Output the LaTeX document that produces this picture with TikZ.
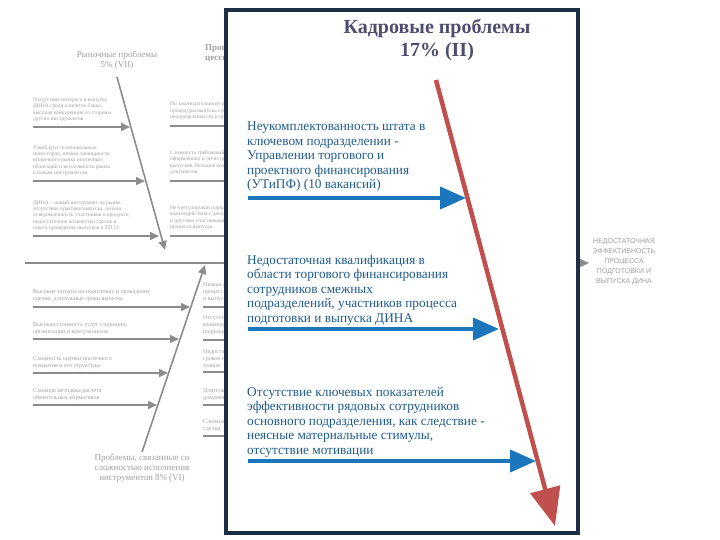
\documentclass[tikz,border=0pt]{standalone}
\usepackage{fontspec}
\setmainfont{Liberation Serif}
\newfontfamily\lsans{Liberation Sans}
\usetikzlibrary{arrows.meta}
\definecolor{navy}{HTML}{1C2F45}
\definecolor{titlec}{HTML}{4E4E70}
\definecolor{bluetext}{HTML}{1F5C8C}
\definecolor{bluearrow}{HTML}{1B76BC}
\definecolor{redarrow}{HTML}{C0504D}
\definecolor{fgray}{HTML}{8C8C8C}
\definecolor{tgray}{HTML}{A0A0A0}
\begin{document}
\begin{tikzpicture}[x=1pt,y=-1pt,
  tinytext/.style={text=tgray, font=\fontsize{5.5}{6.4}\selectfont, align=left, inner sep=0, anchor=south west},
  smalltext/.style={text=tgray, font=\fontsize{6}{7}\selectfont, align=left, inner sep=0, anchor=south west},
  labeltext/.style={text=tgray, font=\fontsize{9}{10}\selectfont, align=center, inner sep=0},
  grayarrow/.style={draw=fgray, line width=1.6pt, -{Triangle[length=9pt,width=8pt]}},
  grayline/.style={draw=fgray, line width=1.6pt},
  mainblock/.style={text=bluetext, font=\fontsize{13.3}{14.5}\selectfont, align=left, inner sep=0, anchor=north west},
  bluearr/.style={draw=bluearrow, line width=4pt, -{Triangle[length=26pt,width=22pt]}},
  redarr/.style={draw=redarrow, line width=4.5pt, -{Triangle[length=38pt,width=30pt]}},
  titletext/.style={text=titlec, font=\fontsize{20}{23}\selectfont\bfseries, align=center, inner sep=0}
]
\useasboundingbox (0,0) rectangle (720,540);
\fill[white] (0,0) rectangle (720,540);

% ---------- background fishbone ----------
\coordinate (g1) at (117,77);
\coordinate (g2) at (165,250);
\coordinate (g3) at (142,452);
\coordinate (g4) at (205,265);
\coordinate (s1) at (25,263);
\coordinate (s2) at (589,263);

\node[labeltext] (lblvii) at (117,60) {Рыночные проблемы\\5\% (VII)};
\node[labeltext, anchor=west, align=left, font=\fontsize{9}{10}\selectfont\bfseries] (lbli) at (205,53) {Процессные проблемы\\цессии и выпуска};
\node[labeltext] (lblvi) at (142,468) {Проблемы, связанные со\\сложностью исполнения\\инструментов 8\% (VI)};
\node[labeltext, font=\lsans\fontsize{7}{10}\selectfont] (lbleff) at (624,262) {НЕДОСТАТОЧНАЯ\\ЭФФЕКТИВНОСТЬ\\ПРОЦЕССА\\ПОДГОТОВКИ И\\ВЫПУСКА ДИНА};

\draw[grayarrow] (g1) -- (g2);
\draw[grayarrow] (g3) -- (g4);
\draw[grayarrow, line width=2pt] (s1) -- (s2);

% upper-left bones
\coordinate (a1s) at (33,127); \coordinate (a1e) at (130,127);
\coordinate (a2s) at (33,181); \coordinate (a2e) at (145,181);
\coordinate (a3s) at (33,236); \coordinate (a3e) at (159,236);
\draw[grayarrow] (a1s) -- (a1e);
\draw[grayarrow] (a2s) -- (a2e);
\draw[grayarrow] (a3s) -- (a3e);
\node[tinytext] (t1) at (33,122) {Отсутствие интереса к выпуску\\ДИНА среди клиентов банка,\\высокая конкуренция со стороны\\других инструментов};
\node[tinytext] (t2) at (33,176) {Узкий круг потенциальных\\инвесторов, низкая ликвидность\\вторичного рынка ипотечных\\облигаций и неготовность рынка\\к новым инструментам};
\node[tinytext] (t3) at (33,231) {ДИНА -- новый инструмент на рынке,\\отсутствие практики выпуска, низкая\\осведомленность участников о продукте,\\недостаточное количество сделок и\\опыта проведения выпусков в 2013 г.};

% upper second column
\coordinate (c1s) at (170,126); \coordinate (c1e) at (240,126);
\coordinate (c2s) at (170,181); \coordinate (c2e) at (240,181);
\coordinate (c3s) at (170,236); \coordinate (c3e) at (240,236);
\draw[grayline] (c1s) -- (c1e);
\draw[grayline] (c2s) -- (c2e);
\draw[grayline] (c3s) -- (c3e);
\node[tinytext] (u1) at (170,120) {По законодательному регулированию\\процедуры выпуска существуют\\неопределенности и пробелы};
\node[tinytext] (u2) at (170,175) {Сложность требований к\\оформлению и регистрации\\выпусков, большое количество\\документов};
\node[tinytext] (u3) at (170,230) {Не урегулирован порядок\\взаимодействия с депозитарием\\и другими участниками\\процесса выпуска};

% lower-left bones
\coordinate (b1s) at (33,307); \coordinate (b1e) at (190,307);
\coordinate (b2s) at (33,339); \coordinate (b2e) at (179,339);
\coordinate (b3s) at (33,373); \coordinate (b3e) at (168,373);
\coordinate (b4s) at (33,405); \coordinate (b4e) at (157,405);
\draw[grayarrow] (b1s) -- (b1e);
\draw[grayarrow] (b2s) -- (b2e);
\draw[grayarrow] (b3s) -- (b3e);
\draw[grayarrow] (b4s) -- (b4e);
\node[smalltext] (l1) at (33,302) {Высокие затраты на подготовку и проведение\\сделки, длительные сроки выпуска};
\node[smalltext] (l2) at (33,335) {Высокая стоимость услуг сторонних\\организаций и консультантов};
\node[smalltext] (l3) at (33,369) {Сложность оценки ипотечного\\покрытия и его структуры};
\node[smalltext] (l4) at (33,401) {Сложная методика расчета\\обязательных нормативов};

% lower second column
\coordinate (d1s) at (203,307); \coordinate (d1e) at (240,307);
\coordinate (d2s) at (203,340); \coordinate (d2e) at (240,340);
\coordinate (d3s) at (203,372); \coordinate (d3e) at (240,372);
\coordinate (d4s) at (203,405); \coordinate (d4e) at (240,405);
\coordinate (d5s) at (203,436); \coordinate (d5e) at (240,436);
\draw[grayline] (d1s) -- (d1e);
\draw[grayline] (d2s) -- (d2e);
\draw[grayline] (d3s) -- (d3e);
\draw[grayline] (d4s) -- (d4e);
\draw[grayline] (d5s) -- (d5e);
\node[smalltext] (m1) at (203,302) {Низкая автоматизация\\процесса подготовки\\и выпуска};
\node[smalltext] (m2) at (203,335) {Отсутствие регламентов\\взаимодействия\\подразделений};
\node[smalltext] (m3) at (203,368) {Недостаточный контроль\\сроков исполнения\\этапов};
\node[smalltext] (m4) at (203,401) {Длительное согласование\\документов};
\node[smalltext] (m5) at (203,432) {Сложная структура\\сделки};

% ---------- overlay box ----------
\node[draw=navy, line width=4pt, fill=white, minimum width=352pt, minimum height=523pt, inner sep=0, anchor=north west] (box) at (224,8) {};

\node[titletext] (title) at (437,39.5) {Кадровые проблемы\\17\% (II)};

\coordinate (r1) at (436,80);
\coordinate (r2) at (555,526);

\node[mainblock] (p1) at (247,122) {Неукомплектованность штата в\\ключевом подразделении -\\Управлении торгового и\\проектного финансирования\\(УТиПФ) (10 вакансий)};
\node[mainblock] (p2) at (247,255) {Недостаточная квалификация в\\области торгового финансирования\\сотрудников смежных\\подразделений, участников процесса\\подготовки и выпуска ДИНА};
\node[mainblock] (p3) at (247,387) {Отсутствие ключевых показателей\\эффективности рядовых сотрудников\\основного подразделения, как следствие -\\неясные материальные стимулы,\\отсутствие мотивации};

\coordinate (e1s) at (248,198); \coordinate (e1e) at (466,198);
\coordinate (e2s) at (248,329); \coordinate (e2e) at (499,329);
\coordinate (e3s) at (248,461); \coordinate (e3e) at (536,461);
\draw[bluearr] (e1s) -- (e1e);
\draw[bluearr] (e2s) -- (e2e);
\draw[bluearr] (e3s) -- (e3e);

\draw[redarr] (r1) -- (r2);
\end{tikzpicture}
\end{document}
